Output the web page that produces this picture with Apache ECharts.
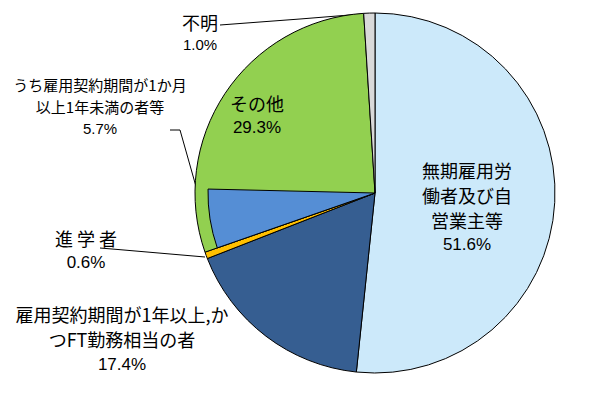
<!DOCTYPE html>
<html><head><meta charset="utf-8">
<script src="https://cdn.jsdelivr.net/npm/echarts@6/dist/echarts.min.js"></script>
<style>html,body{margin:0;padding:0;background:#fff}#c{width:600px;height:393px}</style>
</head><body><div id="c"></div>
<script>
// data
const categories = ['無期雇用労働者及び自営業主等', '雇用契約期間が1年以上,かつFT勤務相当の者', '進学者', 'その他', '不明'];
const labelTexts = ['無期雇用労\n働者及び自\n営業主等', '雇用契約期間が1年以上,か\nつFT勤務相当の者', '進 学 者', 'その他', '不明'];
const values = [51.6, 17.4, 0.6, 29.3, 1.0];
const colors = ['#CCE9FA', '#365E91', '#FFC000', '#92D050', '#D9D9D9'];
const subName = 'うち雇用契約期間が1か月以上1年未満の者等';
const subLabel = 'うち雇用契約期間が1か月\n以上1年未満の者等';
const subValue = 5.7;
const subColor = '#558ED5';

const total = values.reduce((a, b) => a + b, 0);
const before = values[0] + values[1] + values[2];

// label placement (centres of label blocks) and leader lines
const mainPos = [
  {x: 467, y: 207},
  {x: 122, y: 339},
  {x: 86, y: 250, line: [[205, 257], [118, 249.5], [100, 248]]},
  {x: 257, y: 115},
  {x: 200, y: 32, line: [[362, 14], [300, 19], [220, 25]]}
];
const subPos = {x: 100, y: 106, line: [[212, 243], [180, 130], [170, 130]]};

const rich = {
  n: {fontFamily: 'Noto Sans CJK JP', fontSize: 18, lineHeight: 25, color: '#000'},
  s: {fontFamily: 'Noto Sans CJK JP', fontSize: 15, lineHeight: 22, color: '#000'},
  p: {fontFamily: 'Liberation Sans Narrow, Liberation Sans', fontSize: 17, lineHeight: 25, color: '#000'},
  q: {fontFamily: 'Liberation Sans Narrow, Liberation Sans', fontSize: 15, lineHeight: 21, color: '#000'}
};

function fmtLines(text, style) {
  return text.split('\n').map(t => '{' + style + '|' + t + '}').join('\n');
}

const mainData = categories.map((name, i) => ({
  name: name,
  value: values[i],
  itemStyle: {color: colors[i]},
  label: {formatter: fmtLines(labelTexts[i], 'n') + '\n{' + (i === 4 ? 'q' : 'p') + '|' + values[i].toFixed(1) + '%}'},
  labelLine: {show: !!mainPos[i].line, lineStyle: {color: '#000', width: 1}}
}));

const subData = [
  {name: '_a', value: before, itemStyle: {color: 'rgba(0,0,0,0)', borderWidth: 0}, label: {show: false}, labelLine: {show: false}, emphasis: {disabled: true}},
  {name: subName, value: subValue, itemStyle: {color: subColor},
   label: {formatter: fmtLines(subLabel, 's') + '\n{q|' + subValue.toFixed(1) + '%}'},
   labelLine: {show: true, lineStyle: {color: '#000', width: 1}}},
  {name: '_b', value: total - before - subValue, itemStyle: {color: 'rgba(0,0,0,0)', borderWidth: 0}, label: {show: false}, labelLine: {show: false}, emphasis: {disabled: true}}
];

const chart = echarts.init(document.getElementById('c'), null, {renderer: 'svg'});
chart.setOption({
  animation: false,
  backgroundColor: '#fff',
  series: [
    {
      type: 'pie', center: [375, 193], radius: 180, startAngle: 90, clockwise: true,
      avoidLabelOverlap: false, silent: true,
      itemStyle: {borderColor: '#000', borderWidth: 1},
      label: {show: true, position: 'outside', rich: rich, align: 'center'},
      labelLayout: function (p) {
        const m = mainPos[p.dataIndex];
        const r = {x: m.x, y: m.y, align: 'center', verticalAlign: 'middle'};
        if (m.line) r.labelLinePoints = m.line;
        return r;
      },
      data: mainData
    },
    {
      type: 'pie', center: [375, 193], radius: 167, startAngle: 90, clockwise: true,
      avoidLabelOverlap: false, silent: true,
      itemStyle: {borderColor: '#000', borderWidth: 1},
      label: {show: true, position: 'outside', rich: rich, align: 'center'},
      labelLayout: function (p) {
        if (p.dataIndex !== 1) return {};
        return {x: subPos.x, y: subPos.y, align: 'center', verticalAlign: 'middle', labelLinePoints: subPos.line};
      },
      data: subData
    }
  ]
});
</script></body></html>
